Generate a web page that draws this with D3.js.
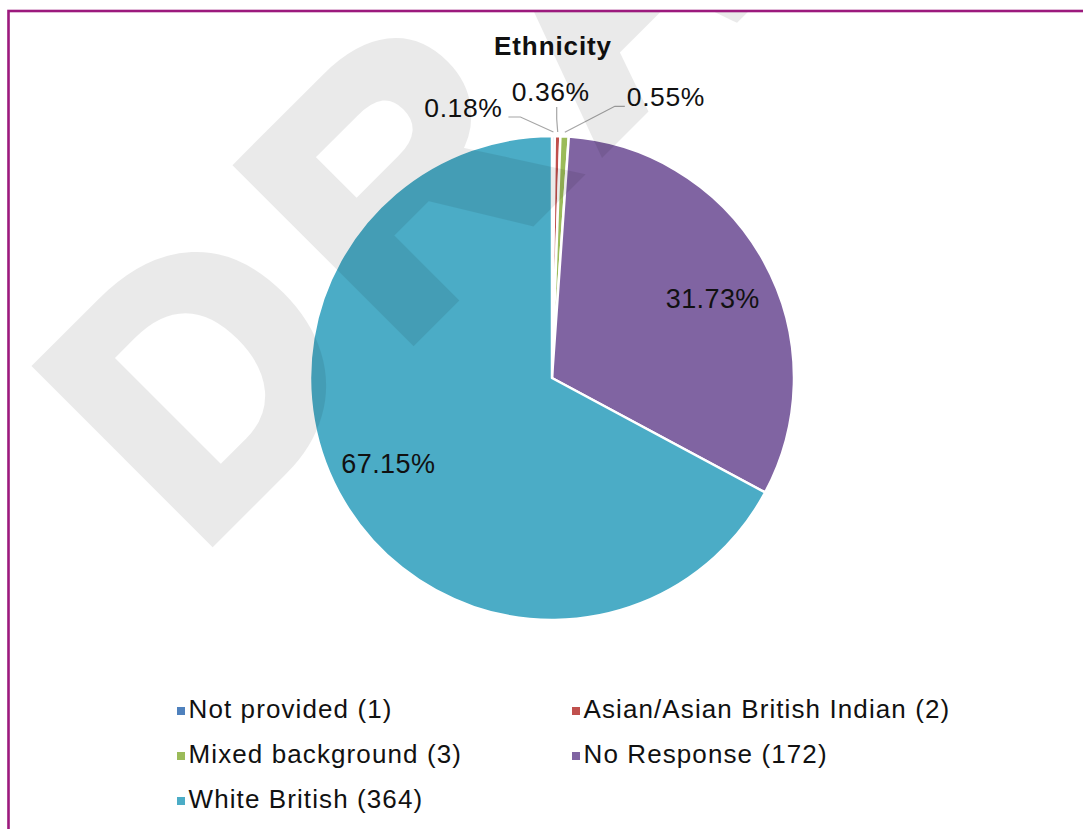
<!DOCTYPE html>
<html>
<head>
<meta charset="utf-8">
<script src="https://cdn.jsdelivr.net/npm/d3@7"></script>
<style>
  html, body { margin: 0; padding: 0; background: #fff; }
  svg { display: block; }
  text { font-family: "Liberation Sans", Arial, sans-serif; }
</style>
</head>
<body>
<svg id="chart" width="1083" height="829"></svg>
<script>
// ---- data ----
const categories = ["Not provided", "Asian/Asian British Indian", "Mixed background", "No Response", "White British"];
const counts = [1, 2, 3, 172, 364];
const percentLabels = ["0.18%", "0.36%", "0.55%", "31.73%", "67.15%"];
const colors = ["#4f81bd", "#c0504d", "#9bbb59", "#8064a2", "#4bacc6"];
const title = "Ethnicity";
const watermark = "DRAFT";

// ---- layout ----
const W = 1083, H = 829;
const cx = 552, cy = 378, R = 242;
const svg = d3.select("#chart");

svg.append("defs").append("clipPath").attr("id", "frameClip")
  .append("rect").attr("x", 10).attr("y", 12).attr("width", W - 10).attr("height", H - 12);

// frame
svg.append("rect")
  .attr("x", 8.5).attr("y", 11).attr("width", 1200).attr("height", 1000)
  .attr("fill", "none").attr("stroke", "#9c1a7d").attr("stroke-width", 2.6);

// title
svg.append("text")
  .attr("x", cx + 1).attr("y", 55)
  .attr("text-anchor", "middle")
  .attr("font-weight", "bold")
  .attr("font-size", 26)
  .attr("letter-spacing", "0.9px")
  .attr("fill", "#111")
  .text(title);

// pie
const pie = d3.pie().sort(null).value(d => d).startAngle(0).endAngle(2 * Math.PI);
const arcs = pie(counts);
const arc = d3.arc().innerRadius(0).outerRadius(R);
const g = svg.append("g").attr("transform", `translate(${cx},${cy})`);

g.selectAll("path.slice")
  .data(arcs)
  .join("path")
  .attr("class", "slice")
  .attr("d", arc)
  .attr("fill", (d, i) => colors[i])
  .attr("stroke", "#fff")
  .attr("stroke-width", 2.5)
  .attr("stroke-linejoin", "round");

// watermark (semi-transparent, over the pie)
const wm = svg.append("g").attr("opacity", 0.08).attr("clip-path", "url(#frameClip)");
wm.append("text")
  .attr("transform", "translate(196,554) rotate(-45)")
  .attr("font-size", 352)
  .attr("font-weight", "bold")
  .attr("letter-spacing", "30px")
  .attr("fill", "#000")
  .attr("stroke", "#000")
  .attr("stroke-width", 14)
  .attr("stroke-linejoin", "miter")
  .text(watermark);

// inner labels for large slices
const labelArc = d3.arc().innerRadius(R * 0.74).outerRadius(R * 0.74);
const innerNudge = { 3: [4, 8], 4: [-10, -6] };
[3, 4].forEach(i => {
  const [x, y] = labelArc.centroid(arcs[i]);
  g.append("text")
    .attr("x", x + innerNudge[i][0]).attr("y", y + innerNudge[i][1])
    .attr("text-anchor", "middle")
    .attr("dominant-baseline", "central")
    .attr("font-size", 27)
    .attr("letter-spacing", "0.4px")
    .attr("fill", "#111")
    .text(percentLabels[i]);
});

// outside labels with leader lines for small slices
const edgeArc = d3.arc().innerRadius(R + 4).outerRadius(R + 4);
const leaderLayout = [
  { elbow: [-33, -15], end: [-45, -15], text: [-51, -15], anchor: "end" },
  { elbow: [-1, -13], end: [-1, -25], text: [-7, -31], anchor: "middle" },
  { elbow: [50, -26], end: [60, -26], text: [62, -26], anchor: "start" }
];
[0, 1, 2].forEach(i => {
  const [px, py] = edgeArc.centroid(arcs[i]);
  const L = leaderLayout[i];
  g.append("polyline")
    .attr("points", [[px, py], [px + L.elbow[0], py + L.elbow[1]], [px + L.end[0], py + L.end[1]]].map(p => p.join(",")).join(" "))
    .attr("fill", "none")
    .attr("stroke", "#a6a6a6")
    .attr("stroke-width", 1.2);
  g.append("text")
    .attr("x", px + L.text[0]).attr("y", py + L.text[1])
    .attr("text-anchor", L.anchor)
    .attr("font-size", 26.5)
    .attr("letter-spacing", "0.6px")
    .attr("fill", "#111")
    .text(percentLabels[i]);
});

// legend
const legend = svg.append("g").attr("transform", "translate(177,718)");
const colX = [0, 395], rowH = 45;
categories.forEach((c, i) => {
  const col = i % 2, row = Math.floor(i / 2);
  const item = legend.append("g").attr("transform", `translate(${colX[col]},${row * rowH})`);
  item.append("rect")
    .attr("x", 0).attr("y", -11).attr("width", 8).attr("height", 8)
    .attr("fill", colors[i]);
  item.append("text")
    .attr("x", 11.5).attr("y", 0)
    .attr("font-size", 26)
    .attr("letter-spacing", "1.1px")
    .attr("fill", "#111")
    .text(`${c} (${counts[i]})`);
});
</script>
</body>
</html>
